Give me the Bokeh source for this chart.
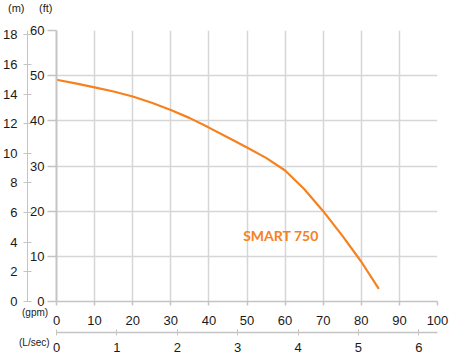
from bokeh.plotting import figure
from bokeh.models import Range1d, LinearAxis, FixedTicker, Label, Div
from bokeh.layouts import column
from bokeh.embed import file_html
from bokeh.resources import INLINE

# Data
flow_gpm = [0, 5, 10, 15, 20, 25, 30, 35, 40, 45, 50, 55, 60, 65, 70, 75, 80, 84.6]
head_ft = [49.1, 48.3, 47.4, 46.5, 45.4, 44.0, 42.4, 40.6, 38.5, 36.3, 34.1, 31.8, 29.0, 24.9, 20.0, 14.6, 8.8, 2.8]
series_name = "SMART 750"

gpm_ticks = [0, 10, 20, 30, 40, 50, 60, 70, 80, 90, 100]
lsec_ticks = [0, 1, 2, 3, 4, 5, 6]
ft_ticks = [0, 10, 20, 30, 40, 50, 60]
m_ticks = [0, 2, 4, 6, 8, 10, 12, 14, 16, 18]
unit_captions = ["(m)", "(ft)", "(gpm)", "(L/sec)"]

GPM_MAX = 100
FT_MAX = 60
GPM_PER_LS = 15.850
FT_PER_M = 3.28084

ORANGE = "#F5821F"
AXIS = "#c4c4c4"
GRID = "#d6d6d6"
TXT = "#1a1a1a"
FONT = "Liberation Sans"
W, H = 453, 360

p = figure(width=W, height=H, output_backend="svg", toolbar_location=None,
           x_range=Range1d(0, GPM_MAX), y_range=Range1d(0, FT_MAX),
           min_border_left=0, min_border_right=16, min_border_top=30, min_border_bottom=59)
p.outline_line_color = None
p.background_fill_color = "white"
p.border_fill_color = "white"

p.extra_y_ranges = {"m": Range1d(0, FT_MAX / FT_PER_M)}
p.extra_x_ranges = {"ls": Range1d(0, GPM_MAX / GPM_PER_LS)}

# grids
p.xgrid.ticker = FixedTicker(ticks=gpm_ticks[1:])
p.ygrid.ticker = FixedTicker(ticks=ft_ticks[1:-1])
p.xgrid.grid_line_color = GRID
p.ygrid.grid_line_color = GRID
p.xgrid.grid_line_width = 1.5
p.ygrid.grid_line_width = 1.5

def style(ax, tin, tout, standoff, size="13px"):
    ax.axis_line_color = AXIS
    ax.major_tick_line_color = AXIS
    ax.minor_tick_line_color = None
    ax.major_tick_in = tin
    ax.major_tick_out = tout
    ax.major_label_standoff = standoff
    ax.major_label_text_font = FONT
    ax.major_label_text_font_size = size
    ax.major_label_text_color = TXT

# ft axis (inner left)
yax = p.yaxis[0]
yax.ticker = FixedTicker(ticks=ft_ticks)
style(yax, 0, 9, 3)
yax.axis_line_width = 2
yax.major_tick_line_width = 1.5

# m axis (outer left)
max_ = LinearAxis(y_range_name="m", ticker=FixedTicker(ticks=m_ticks))
style(max_, 4, 4, 6)
p.add_layout(max_, "left")

# gpm axis
xax = p.xaxis[0]
xax.ticker = FixedTicker(ticks=gpm_ticks)
style(xax, 0, 4, 10)
xax.axis_line_width = 1.5
xax.major_tick_line_width = 1.5
xax.axis_label = " "
xax.axis_label_text_font_size = "2px"
xax.axis_label_standoff = 0

# L/sec axis
lax = LinearAxis(x_range_name="ls", ticker=FixedTicker(ticks=lsec_ticks))
style(lax, 3, 3, 7)
lax.axis_line_width = 1.5
p.add_layout(lax, "below")

# curve
p.line(flow_gpm, head_ft, line_color=ORANGE, line_width=2.2)

p.add_layout(Label(x=49, y=14.6, text=series_name, text_color=ORANGE,
                   text_font="Lato", text_font_style="bold", text_font_size="14px",
                   text_align="left", text_baseline="middle"))

# unit captions (outside the plot frame) as an HTML overlay
cap_pos = [(8, 3, 11), (39, 3, 11), (22, 308, 10), (19, 338, 10)]  # left, top, font px
spans = "".join(
    f'<span style="position:absolute;left:{x}px;top:{y}px;font-size:{s}px;line-height:{s}px;white-space:nowrap;">{t}</span>'
    for t, (x, y, s) in zip(unit_captions, cap_pos)
)
overlay = Div(
    text=f'<div style="position:relative;width:{W}px;height:{H}px;font-family:\'{FONT}\';color:{TXT};">{spans}</div>',
    width=W, height=H, margin=(-H, 0, 0, 0), styles={"pointer-events": "none"},
)

layout = column(p, overlay)
open("out.html", "w").write(file_html(layout, INLINE))
